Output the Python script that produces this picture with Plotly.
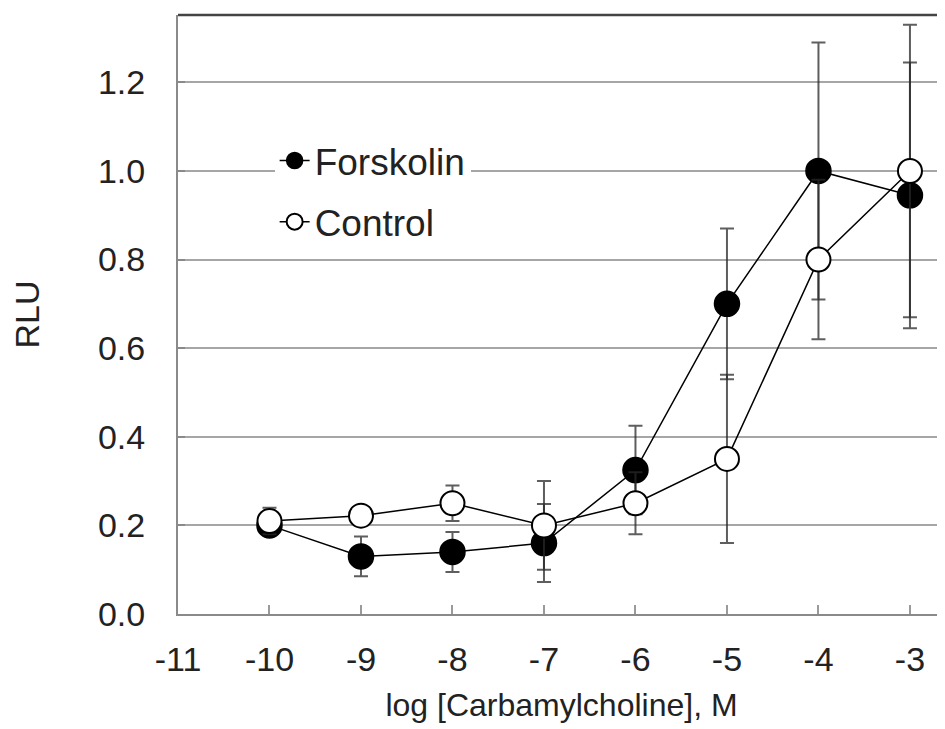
import plotly.graph_objects as go

log_conc = [-10, -9, -8, -7, -6, -5, -4, -3]
forskolin = [0.20, 0.13, 0.14, 0.16, 0.325, 0.70, 1.00, 0.945]
forskolin_err = [0.02, 0.045, 0.045, 0.088, 0.10, 0.17, 0.29, 0.30]
control = [0.21, 0.222, 0.25, 0.20, 0.25, 0.35, 0.80, 1.00]
control_err = [0.03, 0.02, 0.04, 0.10, 0.07, 0.19, 0.18, 0.33]

x_ticks = [-11, -10, -9, -8, -7, -6, -5, -4, -3]
y_ticks = [0.0, 0.2, 0.4, 0.6, 0.8, 1.0, 1.2]

FONT = "Liberation Sans, Arial, Helvetica, sans-serif"
ERRC = "rgba(40,40,40,0.75)"

fig = go.Figure()
fig.add_trace(go.Scatter(
    x=log_conc, y=forskolin, name="Forskolin", mode="lines+markers",
    legendgroup="f",
    line=dict(color="black", width=1.5),
    marker=dict(symbol="circle", size=25, color="black", line=dict(color="black", width=1.5)),
    error_y=dict(type="data", array=forskolin_err, visible=True, color=ERRC, thickness=2, width=7),
))
fig.add_trace(go.Scatter(
    x=log_conc, y=control, name="Control", mode="lines+markers",
    legendgroup="c",
    line=dict(color="black", width=1.5),
    marker=dict(symbol="circle", size=24, color="white", line=dict(color="black", width=2)),
    error_y=dict(type="data", array=control_err, visible=True, color=ERRC, thickness=2, width=7),
))

fig.update_layout(
    width=937, height=721,
    margin=dict(l=170, r=0, t=7, b=115),
    paper_bgcolor="white", plot_bgcolor="white",
    font=dict(family=FONT, size=34, color="#222"),
    showlegend=True,
    legend=dict(
        x=0.126, y=0.808, xanchor="left", yanchor="top",
        bgcolor="white", borderwidth=0,
        font=dict(family=FONT, size=37, color="#222"),
        tracegroupgap=10, traceorder="grouped",
        itemsizing="trace",
    ),
    xaxis=dict(
        range=[-11, -2.617], tickvals=x_ticks, ticktext=[str(v) for v in x_ticks],
        showgrid=False, zeroline=False,
        showline=True, linecolor="#8a8a8a", linewidth=2, mirror=False,
        ticks="inside", ticklen=9, tickwidth=1.5, tickcolor="#9a9a9a",
        ticklabelstandoff=14,
        title=dict(text="log [Carbamylcholine], M", font=dict(size=32), standoff=17),
    ),
    yaxis=dict(
        range=[0, 1.352], tickvals=y_ticks, ticktext=[f"{v:.1f}" for v in y_ticks],
        showgrid=True, gridcolor="#a6a6a6", gridwidth=1.5, zeroline=False,
        showline=True, linecolor="#8a8a8a", linewidth=2,
        ticks="inside", ticklen=7, tickwidth=1.5, tickcolor="#8a8a8a",
        ticklabelstandoff=24,
        title=dict(text="RLU", font=dict(size=34), standoff=48),
    ),
)
# top border line of the plot area
fig.add_shape(type="line", xref="paper", yref="paper", x0=0, x1=1, y0=1, y1=1,
              line=dict(color="#444", width=2.5))

fig.write_html("out.html")
